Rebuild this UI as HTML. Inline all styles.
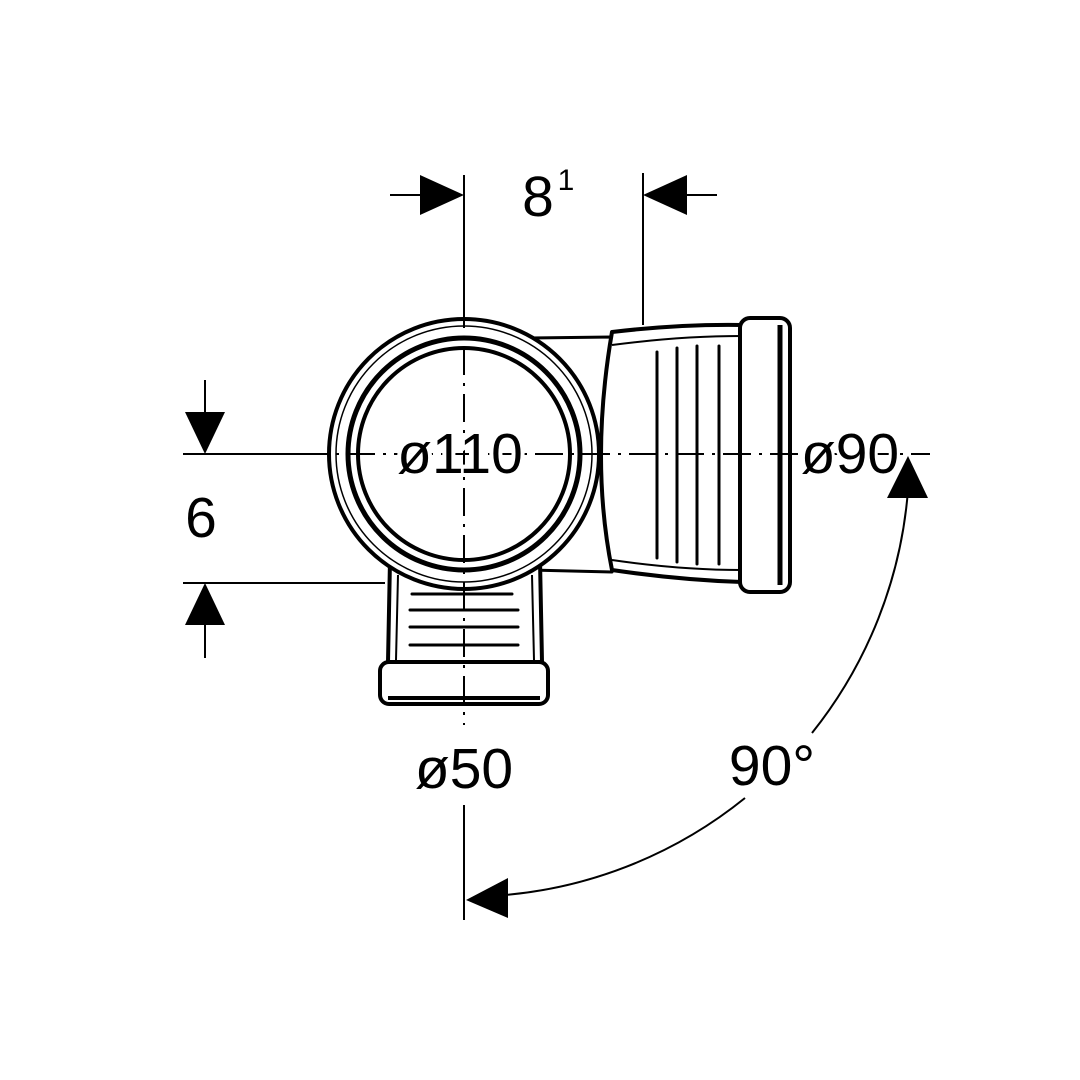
<!DOCTYPE html>
<html><head><style>body{margin:0;background:#fff}svg{display:block}</style></head><body>
<svg width="1080" height="1080" viewBox="0 0 1080 1080" xmlns="http://www.w3.org/2000/svg" font-family="Liberation Sans, sans-serif">
<rect width="1080" height="1080" fill="#fff"/>
<g stroke="#000" fill="none" stroke-width="2">
<line x1="464" y1="175" x2="464" y2="300"/>
<line x1="390" y1="195" x2="425" y2="195"/>
<line x1="643" y1="173" x2="643" y2="325"/>
<line x1="685" y1="195" x2="717" y2="195"/>
<line x1="183" y1="454" x2="300" y2="454"/>
<line x1="205" y1="380" x2="205" y2="412"/>
<line x1="183" y1="583" x2="385" y2="583"/>
<line x1="205" y1="625" x2="205" y2="658"/>
<line x1="464" y1="805" x2="464" y2="920"/>
<path d="M492,896 A444,444 0 0 0 745,798"/>
<path d="M812,733 A444,444 0 0 0 908,490"/>
</g>
<g fill="#000">
<polygon points="420,175 464,195 420,215"/>
<polygon points="687,175 643,195 687,215"/>
<polygon points="185,412 225,412 205,454"/>
<polygon points="185,625 225,625 205,583"/>
<polygon points="508,878 508,918 466,900"/>
<polygon points="887,498 928,498 908,456"/>
</g>
<g stroke="#000" fill="#fff" stroke-linejoin="round">
<path d="M530,338 L612,337 L612,572 L530,570 Z" stroke-width="3"/>
<path d="M612,332 Q680,324 742,325 L742,582 Q680,580 612,570 Q590,460 612,332 Z" stroke-width="4"/>
<path d="M612,345 Q680,336 742,336 M612,560 Q680,570 742,570" stroke-width="2" fill="none"/>
<rect x="740" y="318" width="50" height="274" rx="10" stroke-width="4"/>
<line x1="780" y1="325" x2="780" y2="585" stroke-width="5"/>
<path d="M390,560 L540,560 L542,662 L388,662 Z" stroke-width="4"/>
<path d="M398,575 L396,660 M532,575 L534,660" stroke-width="2" fill="none"/>
<rect x="380" y="662" width="168" height="42" rx="9" stroke-width="4"/>
<line x1="388" y1="698" x2="540" y2="698" stroke-width="4"/>
<circle cx="464" cy="454" r="135" stroke-width="4"/>
<circle cx="464" cy="454" r="128" stroke-width="1.5" fill="none"/>
<circle cx="464" cy="454" r="116" stroke-width="5" fill="none"/>
<circle cx="464" cy="454" r="106" stroke-width="4"/>
</g>
<g stroke="#000" stroke-width="3" stroke-linecap="round" fill="none">
<line x1="657" y1="352" x2="657" y2="558"/>
<line x1="677" y1="348" x2="677" y2="562"/>
<line x1="697" y1="346" x2="697" y2="564"/>
<line x1="719" y1="346" x2="719" y2="564"/>
<line x1="412" y1="594" x2="512" y2="594"/>
<line x1="410" y1="610" x2="518" y2="610"/>
<line x1="410" y1="627" x2="518" y2="627"/>
<line x1="410" y1="645" x2="518" y2="645"/>
</g>
<g stroke="#000" stroke-width="2" fill="none">
<line x1="464" y1="300" x2="464" y2="725" stroke-dasharray="28,8,3,8"/>
<line x1="300" y1="454" x2="930" y2="454" stroke-dasharray="28,8,3,8"/>
</g>
<g fill="#000" font-size="57">
<text x="460" y="473" text-anchor="middle" stroke="#fff" stroke-width="8" paint-order="stroke">ø110</text>
<text x="850" y="473" text-anchor="middle" stroke="#fff" stroke-width="6" paint-order="stroke">ø90</text>
<text x="464" y="788" text-anchor="middle">ø50</text>
<text x="772" y="785" text-anchor="middle">90°</text>
<text x="201" y="537" text-anchor="middle">6</text>
<text x="538" y="216" text-anchor="middle">8</text>
<text x="566" y="190" font-size="30" text-anchor="middle">1</text>
</g>
</svg>
</body></html>
